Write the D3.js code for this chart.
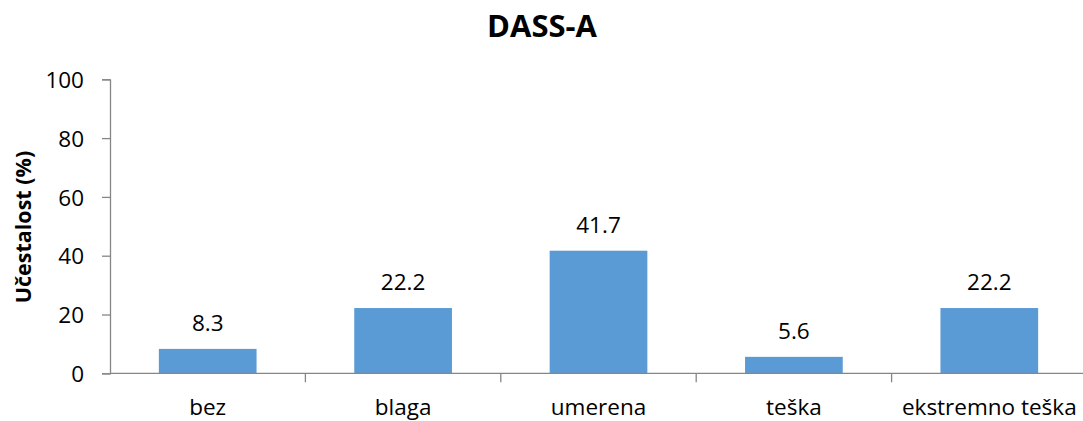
<!DOCTYPE html>
<html>
<head>
<meta charset="utf-8">
<script src="https://cdn.jsdelivr.net/npm/d3@7"></script>
<style>
  html, body { margin: 0; padding: 0; background: #fff; }
  svg { display: block; font-family: "Open Sans", sans-serif; }
</style>
</head>
<body>
<svg id="chart" width="1083" height="421"></svg>
<script>
// Anxiety severity levels (DASS-A) and their frequencies in percent
const categories = ["bez", "blaga", "umerena", "teška", "ekstremno teška"];
const values = [8.3, 22.2, 41.7, 5.6, 22.2];
const yTicks = [0, 20, 40, 60, 80, 100];

const svg = d3.select("#chart");
const plotLeft = 110, plotRight = 1087, plotTop = 79.3, plotBottom = 373.3;

const x = d3.scaleBand().domain(categories).range([plotLeft, plotRight]).paddingInner(0.5).paddingOuter(0.25);
const y = d3.scaleLinear().domain([0, 100]).range([plotBottom, plotTop]);

const axisColor = "#868686";
const textColor = "#000";
const labelSize = 22.5;

// Title
svg.append("text")
  .attr("x", 542).attr("y", 37)
  .attr("text-anchor", "middle")
  .attr("font-size", 31).attr("font-weight", "bold")
  .attr("fill", textColor)
  .text("DASS-A");

// Y axis
const yAxis = svg.append("g")
  .attr("transform", `translate(${plotLeft},0)`)
  .call(d3.axisLeft(y).tickValues(yTicks).tickSize(8).tickPadding(18));
yAxis.select(".domain").attr("stroke", axisColor).attr("stroke-width", 1.3);
yAxis.selectAll(".tick line").attr("stroke", axisColor).attr("stroke-width", 1.3);
yAxis.selectAll(".tick text").attr("font-size", labelSize).attr("fill", textColor)
  .attr("font-family", "Open Sans, sans-serif").attr("dy", "0.36em");

// Y axis title
svg.append("text")
  .attr("transform", "translate(31,227) rotate(-90)")
  .attr("text-anchor", "middle")
  .attr("font-size", 21.5).attr("font-weight", "bold")
  .attr("fill", textColor)
  .text("Učestalost (%)");

// Bars
svg.append("g").selectAll("rect")
  .data(values)
  .join("rect")
  .attr("x", (d, i) => x(categories[i]))
  .attr("width", x.bandwidth())
  .attr("y", d => y(d))
  .attr("height", d => y(0) - y(d))
  .attr("fill", "#5B9BD5");

// X axis with category separators
const step = x.step();
const sepPositions = d3.range(1, categories.length).map(i => plotLeft + i * step);
svg.append("line")
  .attr("x1", plotLeft).attr("x2", 1083)
  .attr("y1", plotBottom).attr("y2", plotBottom)
  .attr("stroke", axisColor).attr("stroke-width", 1.3);
svg.append("g").selectAll("line")
  .data(sepPositions)
  .join("line")
  .attr("x1", d => d).attr("x2", d => d)
  .attr("y1", plotBottom).attr("y2", plotBottom + 9)
  .attr("stroke", axisColor).attr("stroke-width", 1.3);

// Category labels
svg.append("g").selectAll("text")
  .data(categories)
  .join("text")
  .attr("x", d => x(d) + x.bandwidth() / 2)
  .attr("y", 415)
  .attr("text-anchor", "middle")
  .attr("font-size", labelSize)
  .attr("fill", textColor)
  .text(d => d);

// Value labels
svg.append("g").selectAll("text")
  .data(values)
  .join("text")
  .attr("x", (d, i) => x(categories[i]) + x.bandwidth() / 2)
  .attr("y", d => y(d) - 18)
  .attr("text-anchor", "middle")
  .attr("font-size", labelSize)
  .attr("fill", textColor)
  .text(d => d.toFixed(1));
</script>
</body>
</html>
